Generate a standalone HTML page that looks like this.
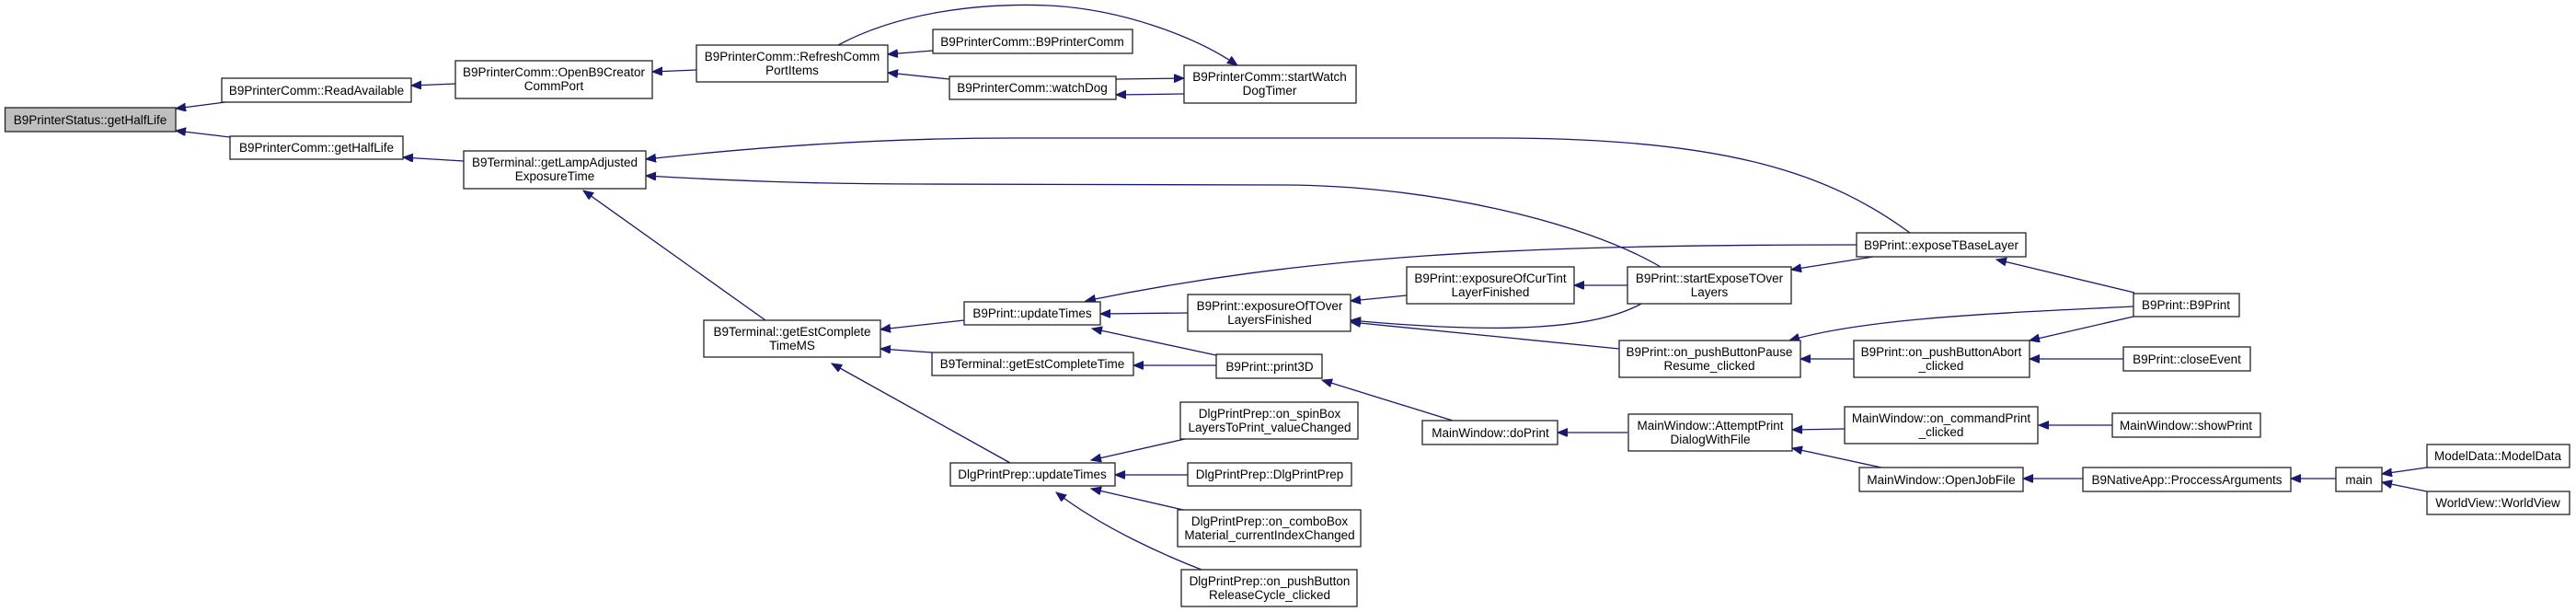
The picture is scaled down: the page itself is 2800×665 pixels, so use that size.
<!DOCTYPE html>
<html><head><meta charset="utf-8"><style>
html,body{margin:0;padding:0;background:#fff;}
svg{display:block;}
text{font-family:"Liberation Sans",Arial,sans-serif;font-size:13.5px;fill:#000;}
.b{fill:#fff;stroke:#222;stroke-width:1.3;}
.e{fill:none;stroke:#191970;stroke-width:1.3;marker-end:url(#a);}
</style></head><body>
<svg width="2800" height="665" viewBox="0 0 2800 665" xmlns="http://www.w3.org/2000/svg">
<defs><marker id="a" markerUnits="userSpaceOnUse" markerWidth="12" markerHeight="10" refX="11" refY="4.5" orient="auto"><path d="M0,0 L11,4.5 L0,9 z" fill="#191970" stroke="#191970"/></marker></defs>

<!-- edges -->
<path class="e" d="M245,111 L191,118"/>
<path class="e" d="M250,149 L191,142"/>
<path class="e" d="M495,91 L447,93"/>
<path class="e" d="M504,175 L438,171"/>
<path class="e" d="M757,76 L709,78"/>
<path class="e" d="M1014,55 L965,59"/>
<path class="e" d="M1032,86 L965,79"/>
<path class="e" d="M1213,86 L1287,85"/>
<path class="e" d="M1287,102 L1213,103"/>
<path class="e" d="M911,49 C980,12 1070,3 1140,6 C1220,10 1300,40 1345,71"/>
<path class="e" d="M2076,253 C1990,190 1880,150 1630,150 L1100,150 C960,150 820,160 702,173"/>
<path class="e" d="M1805,290 C1720,240 1550,201 1393,201 L1000,200 C880,200 790,196 702,191"/>
<path class="e" d="M832,348 L634,207"/>
<path class="e" d="M1048,348 L957,358"/>
<path class="e" d="M1013,383 L957,379"/>
<path class="e" d="M1098,503 L904,395"/>
<path class="e" d="M2018,266 C1640,266 1420,278 1180,327"/>
<path class="e" d="M1291,340 L1196,341"/>
<path class="e" d="M1322,386 L1187,357"/>
<path class="e" d="M1322,397 L1232,397"/>
<path class="e" d="M1529,321 L1468,327"/>
<path class="e" d="M1784,330 C1730,360 1620,362 1468,348"/>
<path class="e" d="M1760,379 L1468,350"/>
<path class="e" d="M1769,310 L1711,310"/>
<path class="e" d="M2036,279 L1947,293"/>
<path class="e" d="M2320,318 L2170,282"/>
<path class="e" d="M2319,333 C2180,340 2030,345 1945,370"/>
<path class="e" d="M2319,344 L2206,370"/>
<path class="e" d="M2015,390 L1957,390"/>
<path class="e" d="M2308,390 L2206,390"/>
<path class="e" d="M1579,457 L1437,413"/>
<path class="e" d="M1769,470 L1693,470"/>
<path class="e" d="M2005,466 L1948,467"/>
<path class="e" d="M2296,462 L2216,462"/>
<path class="e" d="M2045,508 L1948,487"/>
<path class="e" d="M2264,520 L2199,520"/>
<path class="e" d="M2539,520 L2490,520"/>
<path class="e" d="M2638,508 L2589,515"/>
<path class="e" d="M2638,534 L2589,524"/>
<path class="e" d="M1288,477 L1186,500"/>
<path class="e" d="M1291,516 L1212,516"/>
<path class="e" d="M1286,554 L1186,531"/>
<path class="e" d="M1306,619 C1270,605 1200,575 1148,535"/>

<!-- nodes -->
<rect x="5.5" y="117" width="185.5" height="26" style="fill:#bfbfbf;stroke:#222;stroke-width:1.3"/>
<text x="98" y="135" text-anchor="middle">B9PrinterStatus::getHalfLife</text>

<rect class="b" x="241" y="85" width="206" height="26"/><text x="344" y="103" text-anchor="middle">B9PrinterComm::ReadAvailable</text>
<rect class="b" x="250" y="148" width="188" height="25"/><text x="344" y="165" text-anchor="middle">B9PrinterComm::getHalfLife</text>
<rect class="b" x="495" y="66" width="214" height="41"/><text x="602" y="83" text-anchor="middle">B9PrinterComm::OpenB9Creator</text><text x="602" y="98" text-anchor="middle">CommPort</text>
<rect class="b" x="504" y="164" width="198" height="41"/><text x="603" y="181" text-anchor="middle">B9Terminal::getLampAdjusted</text><text x="603" y="196" text-anchor="middle">ExposureTime</text>
<rect class="b" x="757" y="49" width="208" height="40"/><text x="861" y="66" text-anchor="middle">B9PrinterComm::RefreshComm</text><text x="861" y="81" text-anchor="middle">PortItems</text>
<rect class="b" x="1014" y="32" width="217" height="26"/><text x="1122" y="50" text-anchor="middle">B9PrinterComm::B9PrinterComm</text>
<rect class="b" x="1032" y="83" width="181" height="25"/><text x="1122" y="100" text-anchor="middle">B9PrinterComm::watchDog</text>
<rect class="b" x="1287" y="71" width="187" height="41"/><text x="1380" y="88" text-anchor="middle">B9PrinterComm::startWatch</text><text x="1380" y="103" text-anchor="middle">DogTimer</text>

<rect class="b" x="765" y="348" width="192" height="40"/><text x="861" y="365" text-anchor="middle">B9Terminal::getEstComplete</text><text x="861" y="380" text-anchor="middle">TimeMS</text>
<rect class="b" x="1048" y="328" width="148" height="25"/><text x="1122" y="345" text-anchor="middle">B9Print::updateTimes</text>
<rect class="b" x="1013" y="383" width="219" height="25"/><text x="1122" y="400" text-anchor="middle">B9Terminal::getEstCompleteTime</text>
<rect class="b" x="1291" y="320" width="177" height="40"/><text x="1380" y="337" text-anchor="middle">B9Print::exposureOfTOver</text><text x="1380" y="352" text-anchor="middle">LayersFinished</text>
<rect class="b" x="1322" y="385" width="115" height="26"/><text x="1380" y="403" text-anchor="middle">B9Print::print3D</text>

<rect class="b" x="1033" y="503" width="179" height="25"/><text x="1122" y="520" text-anchor="middle">DlgPrintPrep::updateTimes</text>
<rect class="b" x="1283" y="437" width="193" height="40"/><text x="1380" y="454" text-anchor="middle">DlgPrintPrep::on_spinBox</text><text x="1380" y="469" text-anchor="middle">LayersToPrint_valueChanged</text>
<rect class="b" x="1291" y="503" width="178" height="25"/><text x="1380" y="520" text-anchor="middle">DlgPrintPrep::DlgPrintPrep</text>
<rect class="b" x="1280" y="554" width="199" height="40"/><text x="1380" y="571" text-anchor="middle">DlgPrintPrep::on_comboBox</text><text x="1380" y="586" text-anchor="middle">Material_currentIndexChanged</text>
<rect class="b" x="1284" y="619" width="191" height="40"/><text x="1380" y="636" text-anchor="middle">DlgPrintPrep::on_pushButton</text><text x="1380" y="651" text-anchor="middle">ReleaseCycle_clicked</text>

<rect class="b" x="1529" y="290" width="182" height="40"/><text x="1620" y="307" text-anchor="middle">B9Print::exposureOfCurTint</text><text x="1620" y="322" text-anchor="middle">LayerFinished</text>
<rect class="b" x="1546" y="457" width="147" height="26"/><text x="1620" y="475" text-anchor="middle">MainWindow::doPrint</text>
<rect class="b" x="1769" y="290" width="178" height="40"/><text x="1858" y="307" text-anchor="middle">B9Print::startExposeTOver</text><text x="1858" y="322" text-anchor="middle">Layers</text>
<rect class="b" x="1760" y="370" width="197" height="40"/><text x="1858" y="387" text-anchor="middle">B9Print::on_pushButtonPause</text><text x="1858" y="402" text-anchor="middle">Resume_clicked</text>
<rect class="b" x="1770" y="450" width="178" height="40"/><text x="1859" y="467" text-anchor="middle">MainWindow::AttemptPrint</text><text x="1859" y="482" text-anchor="middle">DialogWithFile</text>

<rect class="b" x="2018" y="253" width="184" height="26"/><text x="2110" y="271" text-anchor="middle">B9Print::exposeTBaseLayer</text>
<rect class="b" x="2015" y="370" width="191" height="40"/><text x="2110" y="387" text-anchor="middle">B9Print::on_pushButtonAbort</text><text x="2110" y="402" text-anchor="middle">_clicked</text>
<rect class="b" x="2005" y="442" width="210" height="40"/><text x="2110" y="459" text-anchor="middle">MainWindow::on_commandPrint</text><text x="2110" y="474" text-anchor="middle">_clicked</text>
<rect class="b" x="2021" y="508" width="178" height="26"/><text x="2110" y="526" text-anchor="middle">MainWindow::OpenJobFile</text>

<rect class="b" x="2319" y="319" width="115" height="25"/><text x="2376" y="336" text-anchor="middle">B9Print::B9Print</text>
<rect class="b" x="2308" y="377" width="138" height="26"/><text x="2377" y="395" text-anchor="middle">B9Print::closeEvent</text>
<rect class="b" x="2296" y="449" width="161" height="26"/><text x="2376" y="467" text-anchor="middle">MainWindow::showPrint</text>
<rect class="b" x="2264" y="508" width="226" height="26"/><text x="2377" y="526" text-anchor="middle">B9NativeApp::ProccessArguments</text>
<rect class="b" x="2539" y="508" width="50" height="26"/><text x="2564" y="526" text-anchor="middle">main</text>
<rect class="b" x="2638" y="483" width="155" height="25"/><text x="2715" y="500" text-anchor="middle">ModelData::ModelData</text>
<rect class="b" x="2638" y="534" width="155" height="25"/><text x="2715" y="551" text-anchor="middle">WorldView::WorldView</text>
</svg>
</body></html>
